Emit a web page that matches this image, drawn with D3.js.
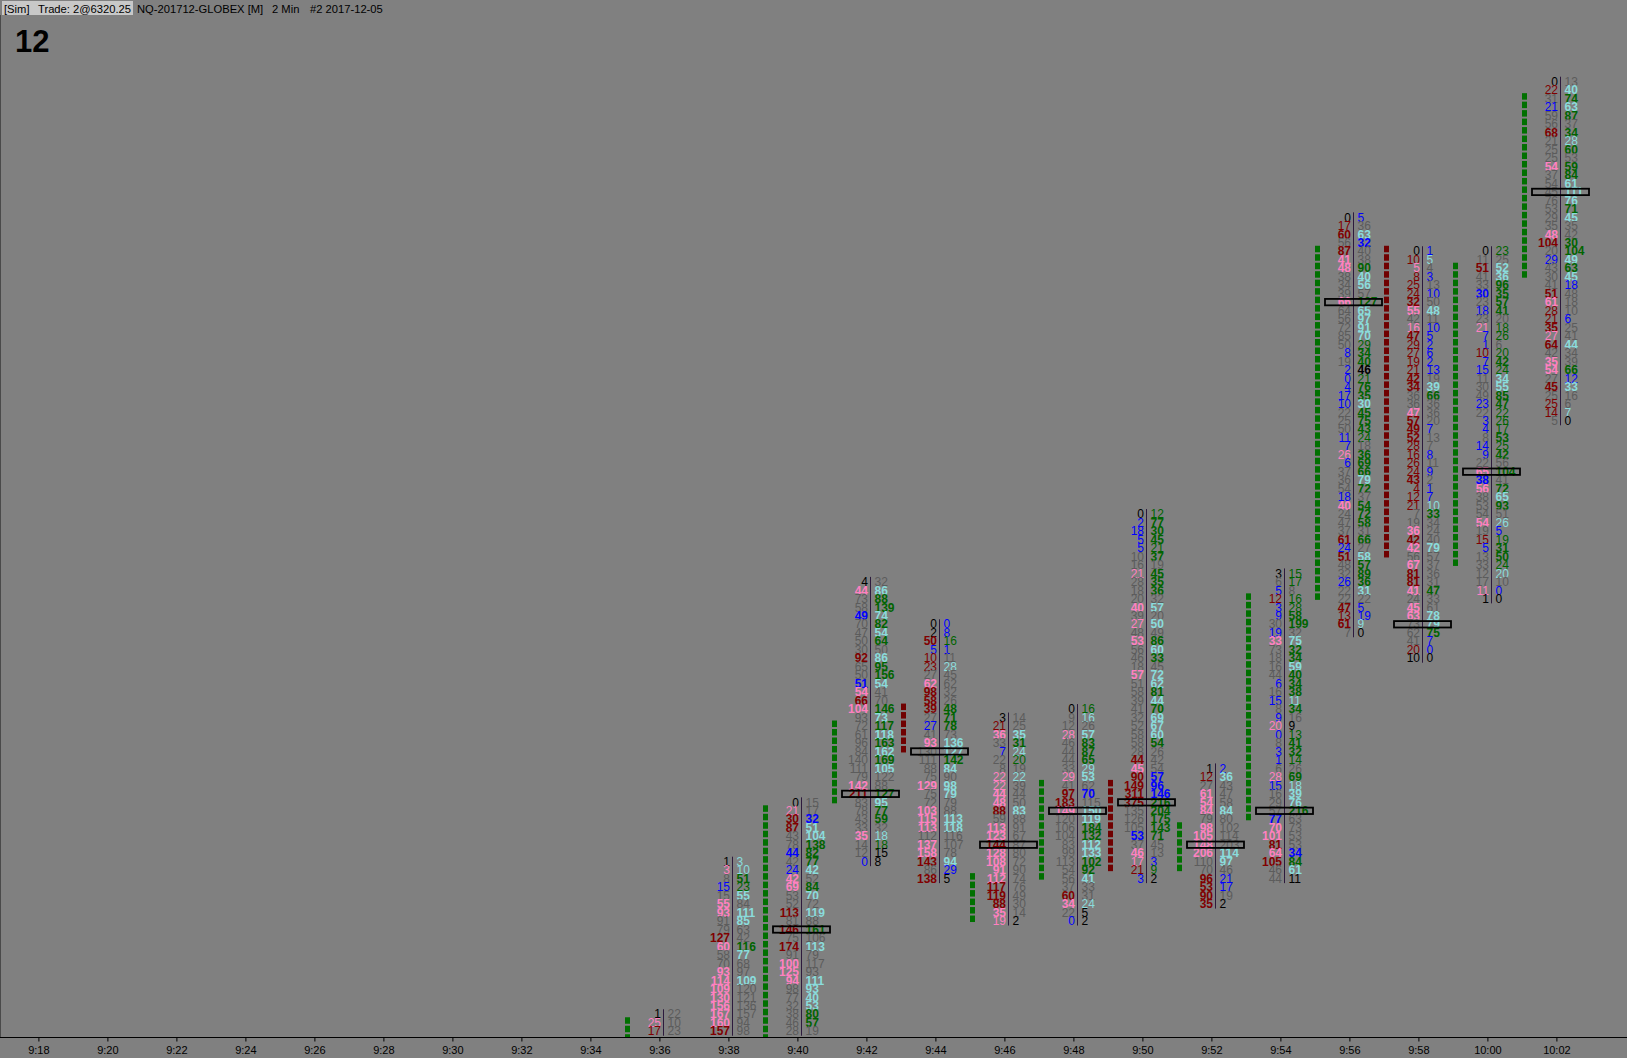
<!DOCTYPE html>
<html><head><meta charset="utf-8">
<script src="https://cdn.jsdelivr.net/npm/d3@7"></script>
<style>
html,body{margin:0;padding:0;background:#808080;overflow:hidden;}
svg{display:block;}
</style></head><body>
<svg id="chart" width="1627" height="1058"></svg>
<script>
// ---------- DATA ----------
const tickLabels = ["9:18","9:20","9:22","9:24","9:26","9:28","9:30","9:32","9:34","9:36","9:38","9:40","9:42","9:44","9:46","9:48","9:50","9:52","9:54","9:56","9:58","10:00","10:02"];
const barTimes  = ["9:36","9:38","9:40","9:42","9:44","9:46","9:48","9:50","9:52","9:54","9:56","9:58","10:00","10:02"];
const barHighs  = [6293.25,6297.75,6299.5,6306,6304.75,6302,6302.25,6308,6300.5,6306.25,6316.75,6315.75,6315.75,6320.75];
const barOpens  = [6292.0,6292.25,6291.75,6299.5,6302.25,6296.0,6297.25,6300.0,6297.5,6299.0,6305.5,6315.75,6306.5,6315.0];
const barCloses = [6293.0,6291.75,6299.25,6301.75,6301.0,6297.25,6300.0,6297.5,6298.75,6305.5,6315.75,6306.75,6315.25,6320.25];
const barPocs   = [null,null,6295.75,6299.75,6301.0,6298.25,6299.25,6299.5,6298.25,6299.25,6314.25,6304.75,6309.25,6317.5];
const barClipped = [true,true,true,false,false,false,false,false,false,false,false,false,false,false];

const bids0936 = [1,25,17];
const asks0936 = [22,10,23];
const bids0938 = [1,3,8,15,15,55,93,91,79,127,60,58,70,93,114,109,130,156,167,160,157];
const asks0938 = [3,10,51,23,55,84,111,85,63,42,116,77,68,97,109,120,121,136,157,94,98];
const bids0940 = [0,21,30,87,43,78,44,42,24,42,69,53,52,113,81,146,75,174,91,100,125,94,98,77,32,38,46,28];
const asks0940 = [15,17,32,51,104,138,82,77,42,52,84,70,72,119,88,161,106,113,79,117,93,111,93,40,53,80,57,19];
const bids0942 = [4,44,73,58,49,70,47,50,30,92,65,50,51,54,66,104,93,72,61,96,84,140,111,79,142,211,83,78,43,33,35,14,12,0];
const asks0942 = [32,86,88,139,74,82,54,64,50,86,95,156,54,41,70,146,73,117,118,163,162,169,105,122,88,127,95,77,59,32,18,18,15,8];
const bids0944 = [0,2,50,5,10,23,27,62,98,58,39,27,27,41,93,130,111,88,75,129,75,72,103,115,113,112,137,158,143,86,138];
const asks0944 = [0,8,16,1,11,28,45,62,32,26,48,71,78,73,136,127,142,84,90,98,79,79,88,113,118,116,107,78,94,29,5];
const bids0946 = [3,21,36,33,7,22,8,22,22,44,48,88,59,113,123,144,128,108,91,112,117,119,88,35,19];
const asks0946 = [14,25,35,31,24,20,19,22,39,44,50,83,88,91,67,87,80,72,90,74,76,49,30,14,2];
const bids0948 = [0,9,12,28,46,44,44,33,29,41,97,183,149,120,106,104,83,99,113,54,56,37,60,34,22,0];
const asks0948 = [16,16,26,57,83,87,65,29,53,62,70,115,150,119,184,132,112,133,102,92,41,33,31,24,5,2];
const bids0950 = [0,2,18,5,5,10,16,21,28,18,20,40,39,27,48,53,56,46,18,57,51,58,39,41,32,52,58,58,28,44,45,90,149,311,375,135,126,105,53,37,46,17,21,3];
const asks0950 = [12,77,30,45,21,37,19,45,35,36,32,57,20,50,49,86,60,33,45,72,62,81,44,70,69,67,60,54,26,42,54,57,96,146,216,204,175,143,71,45,13,3,9,2];
const bids0952 = [1,12,27,61,54,84,79,98,105,148,206,110,70,96,53,90,35];
const asks0952 = [2,36,43,47,58,84,80,102,114,203,114,97,46,21,17,19,2];
const bids0954 = [3,6,5,12,3,9,30,19,33,73,18,16,44,6,16,15,8,9,20,0,8,3,1,6,28,15,16,29,57,77,70,101,81,64,105,46,44];
const asks0954 = [15,17,8,16,28,58,199,32,75,32,34,59,40,34,38,11,34,16,9,13,41,32,14,26,69,18,39,76,216,63,73,53,53,34,84,61,11];
const bids0956 = [0,17,60,56,87,41,48,38,34,39,66,64,56,72,85,50,8,19,2,0,4,17,10,22,25,50,11,7,26,6,37,36,54,18,40,24,47,37,61,24,51,48,32,26,22,22,47,13,61,7];
const asks0956 = [5,36,63,32,40,38,90,40,56,57,127,65,97,91,70,29,34,40,46,21,76,35,30,45,75,43,24,18,36,69,66,79,72,37,54,72,58,31,66,27,58,57,89,36,31,22,5,19,9,0];
const bids0958 = [0,10,5,8,25,24,32,55,42,16,47,29,27,19,21,42,34,36,36,47,57,49,52,28,16,26,24,43,4,12,21,7,19,36,42,42,56,67,81,81,41,24,45,63,73,62,41,20,10];
const asks0958 = [1,5,4,3,13,10,50,48,11,10,5,2,6,2,13,19,39,66,36,36,20,7,13,7,8,11,9,2,1,7,10,33,34,24,40,79,57,37,36,31,47,33,61,78,79,75,7,0,0];
const bids1000 = [0,11,51,41,33,30,23,18,23,21,7,1,10,7,15,11,30,49,23,22,3,4,8,14,9,22,65,38,56,38,53,54,54,19,15,5,13,33,12,17,11,1];
const asks1000 = [23,25,52,36,96,35,57,41,20,18,26,6,20,42,24,34,55,85,47,22,26,17,53,25,42,56,104,41,72,65,93,51,26,5,19,31,50,24,20,10,0,0];
const bids1002 = [0,22,31,21,59,56,68,21,25,25,54,37,54,45,76,53,29,35,48,104,20,29,43,30,41,51,61,28,21,35,27,64,42,35,54,27,45,25,25,14,5];
const asks1002 = [13,40,74,63,87,37,34,28,60,53,59,84,61,111,76,71,45,35,42,30,104,49,63,45,18,48,18,10,6,25,41,44,34,39,66,12,33,16,6,7,0];

const barBids = [bids0936,bids0938,bids0940,bids0942,bids0944,bids0946,bids0948,bids0950,bids0952,bids0954,bids0956,bids0958,bids1000,bids1002];
const barAsks = [asks0936,asks0938,asks0940,asks0942,asks0944,asks0946,asks0948,asks0950,asks0952,asks0954,asks0956,asks0958,asks1000,asks1002];

// ---------- CHART ----------
const W = 1627, H = 1058, axisY = 1037, TICK = 0.25;
const toMin = s => { const [h, m] = s.split(':').map(Number); return h * 60 + m; };

const x = d3.scaleLinear().domain([toMin('9:18'), toMin('10:02')]).range([38.4, 1556.4]);
const y = d3.scaleLinear().domain([6320.75, 6292.5]).range([81.7, 81.7 + 113 * 8.478]);

const palette = {
  k: '#000000', g: '#5c5c5c', b: '#0000ff',
  bidS: '#800000', bidL: '#ff80c0', askS: '#006400', askL: '#8adcdc'
};
function classify(v, ref, edge) {
  if (ref === undefined) return edge ? 'k' : 'g';
  if (ref === 0) return 'k';
  const r = v / ref;
  if (r < 0.4) return 'b';
  if (r >= 1.5) return 'S';
  if (r >= 1) return 'L';
  return 'g';
}

const svg = d3.select('#chart');
svg.append('rect').attr('width', W).attr('height', H).attr('fill', '#808080');

svg.append('defs').append('clipPath').attr('id', 'plotClip')
  .append('rect').attr('x', 0).attr('y', 0).attr('width', W).attr('height', axisY);

const plot = svg.append('g').attr('clip-path', 'url(#plotClip)');

const bars = barTimes.map((t, i) => ({
  t, m: toMin(t), high: barHighs[i], bids: barBids[i], asks: barAsks[i],
  open: barOpens[i], close: barCloses[i], poc: barPocs[i], clipped: barClipped[i]
}));

bars.forEach(b => {
  const tx = x(b.m);
  const sep = Math.round(tx + 4) + 0.5;
  const g = plot.append('g');

  const hi = Math.max(b.open, b.close), lo = Math.min(b.open, b.close);
  const n = Math.round((hi - lo) / TICK) + 1;
  const ticks = d3.range(n).map(i => hi - i * TICK);
  g.selectAll('rect.body').data(ticks).join('rect')
    .attr('class', 'body')
    .attr('x', Math.round(tx - 34))
    .attr('width', 5)
    .attr('y', p => y(p) - 5.5)
    .attr('height', 6.5)
    .attr('fill', b.close >= b.open ? '#007000' : '#700000');

  const rows = b.bids.map((bv, i) => {
    const price = b.high - i * TICK;
    const av = b.asks[i];
    const bc = classify(bv, i > 0 ? b.asks[i - 1] : undefined, true);
    const ac = classify(av, i < b.bids.length - 1 ? b.bids[i + 1] : undefined, !b.clipped);
    return { price, bv, av, bc, ac };
  });
  const pTop = rows[0].price, pBot = rows[rows.length - 1].price;

  g.append('line')
    .attr('x1', sep).attr('x2', sep)
    .attr('y1', y(pTop) - 5).attr('y2', y(pBot) + 4.5)
    .attr('stroke', '#2d1a3d').attr('stroke-width', 1);

  const colB = c => c === 'S' ? palette.bidS : c === 'L' ? palette.bidL : palette[c];
  const colA = c => c === 'S' ? palette.askS : c === 'L' ? palette.askL : palette[c];
  const weight = (v, c) => (v >= 30 && c !== 'g') ? 'bold' : 'normal';

  const cells = g.selectAll('g.row').data(rows).join('g').attr('class', 'row');
  cells.append('text')
    .attr('x', sep - 2.5).attr('y', d => y(d.price)).attr('dy', 4.2)
    .attr('text-anchor', 'end')
    .attr('fill', d => colB(d.bc))
    .attr('font-weight', d => weight(d.bv, d.bc))
    .text(d => d.bv);
  cells.append('text')
    .attr('x', sep + 4).attr('y', d => y(d.price)).attr('dy', 4.2)
    .attr('text-anchor', 'start')
    .attr('fill', d => colA(d.ac))
    .attr('font-weight', d => weight(d.av, d.ac))
    .text(d => d.av);

  if (b.poc !== null) {
    g.append('rect')
      .attr('x', sep - 28.5).attr('width', 57)
      .attr('y', y(b.poc) - 3.2).attr('height', 6.4)
      .attr('fill', 'none').attr('stroke', '#000').attr('stroke-width', 1.8);
  }
});

plot.selectAll('text')
  .attr('font-family', '"Liberation Sans", Arial, sans-serif')
  .attr('font-size', 12);

// axis
svg.append('line').attr('x1', 0).attr('x2', W).attr('y1', axisY + 0.5).attr('y2', axisY + 0.5)
  .attr('stroke', '#000').attr('stroke-width', 1);
svg.append('line').attr('x1', 0.5).attr('x2', 0.5).attr('y1', 15).attr('y2', axisY)
  .attr('stroke', '#4a4a4a').attr('stroke-width', 1);

const tickMins = tickLabels.map(toMin);
const axis = d3.axisBottom(x).tickValues(tickMins)
  .tickFormat((d, i) => tickLabels[i]).tickSize(4).tickPadding(5);
const ax = svg.append('g').attr('transform', `translate(0,${axisY + 0.5})`).call(axis);
ax.select('.domain').remove();
ax.selectAll('line').attr('stroke', '#000');
ax.selectAll('text').attr('font-family', '"Liberation Sans", Arial, sans-serif')
  .attr('font-size', 11).attr('fill', '#000');

// header
svg.append('rect').attr('x', 2).attr('y', 1).attr('width', 131).attr('height', 14).attr('fill', '#c8c8c8');
const hdr = [
  { s: '[Sim]', x: 4 },
  { s: 'Trade: 2@6320.25', x: 38 },
  { s: 'NQ-201712-GLOBEX [M]', x: 137 },
  { s: '2 Min', x: 272 },
  { s: '#2 2017-12-05', x: 310 }
];
svg.selectAll('text.hdr').data(hdr).join('text').attr('class', 'hdr')
  .attr('x', d => d.x).attr('y', 12.5)
  .attr('font-family', '"Liberation Sans", Arial, sans-serif').attr('font-size', 11.2)
  .attr('fill', '#000').text(d => d.s);

svg.append('text').attr('x', 15).attr('y', 52)
  .attr('font-family', '"Liberation Sans", Arial, sans-serif').attr('font-size', 31)
  .attr('font-weight', 'bold').attr('fill', '#000').text('12');
</script>
</body></html>
